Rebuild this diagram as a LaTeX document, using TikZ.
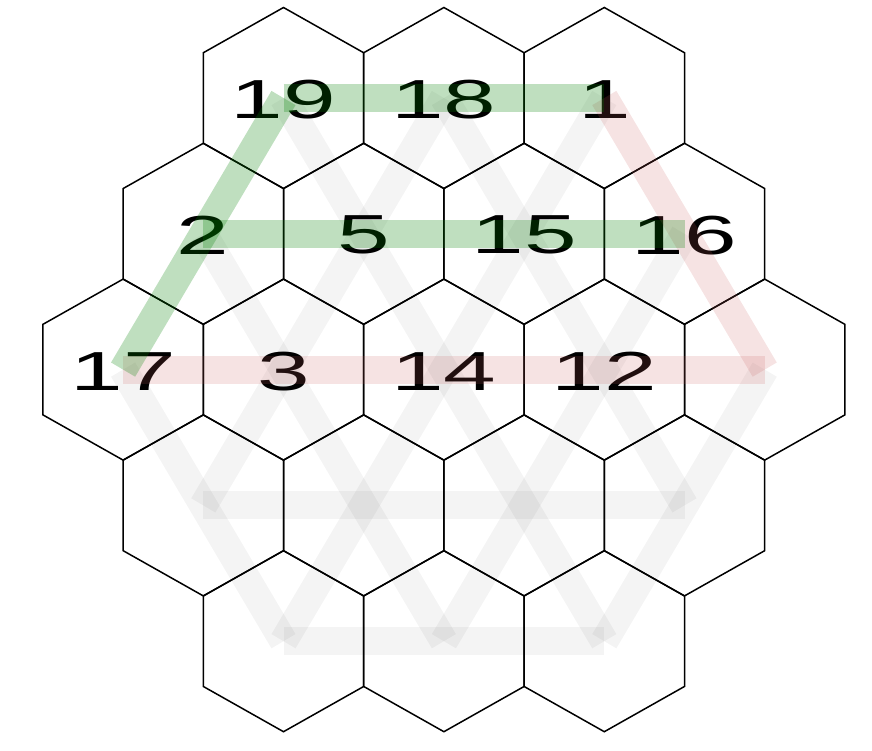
\documentclass[tikz,border=0pt]{standalone}
\usepackage{fontspec}
\setmainfont{Liberation Sans}
\definecolor{bandgreen}{RGB}{0,128,0}
\definecolor{bandred}{RGB}{200,90,90}
\begin{document}
\begin{tikzpicture}[x=1pt,y=-1pt,
  hexedge/.style={draw=black,line width=1.5pt,line join=miter},
  num/.style={inner sep=0pt,font=\fontsize{55}{60}\selectfont},
  band/.style={line width=28pt,line cap=butt},
  greyband/.style={band,draw=black,draw opacity=0.045},
  greenband/.style={band,draw=bandgreen,draw opacity=0.25},
  redband/.style={band,draw=bandred,draw opacity=0.17}]
\useasboundingbox (0,0) rectangle (872,750);
% cell centres
\foreach \n/\r/\q in {c00/0/-2,c01/0/0,c02/0/2,
                      c10/1/-3,c11/1/-1,c12/1/1,c13/1/3,
                      c20/2/-4,c21/2/-2,c22/2/0,c23/2/2,c24/2/4,
                      c30/3/-3,c31/3/-1,c32/3/1,c33/3/3,
                      c40/4/-2,c41/4/0,c42/4/2}{
  \coordinate (\n) at ({443.9+80.2*\q},{98+135.8*\r});
  \draw[hexedge] (\n) ++(0,-90.5) -- ++(80.2,45.25) -- ++(0,90.5) -- ++(-80.2,45.25)
     -- ++(-80.2,-45.25) -- ++(0,-90.5) -- cycle;
}
% numbers
\foreach \n/\t in {c00/19,c01/18,c02/1,c10/2,c11/5,c12/15,c13/16,
                   c20/17,c21/3,c22/14,c23/12}{
  \node[num] (t\n) at ([yshift=-1.5pt]\n) {\scalebox{1.72}[1]{\t}};
}
% grey lines
\draw[greyband] (c30) -- (c33);
\draw[greyband] (c40) -- (c42);
\draw[greyband] (c01) -- (c33);
\draw[greyband] (c00) -- (c42);
\draw[greyband] (c10) -- (c41);
\draw[greyband] (c20) -- (c40);
\draw[greyband] (c01) -- (c30);
\draw[greyband] (c02) -- (c40);
\draw[greyband] (c13) -- (c41);
\draw[greyband] (c24) -- (c42);
% red lines
\draw[redband] (c20) -- (c24);
\draw[redband] (c02) -- (c24);
% green lines
\draw[greenband] (c00) -- (c02);
\draw[greenband] (c10) -- (c13);
\draw[greenband] (c00) -- (c20);
\end{tikzpicture}
\end{document}
